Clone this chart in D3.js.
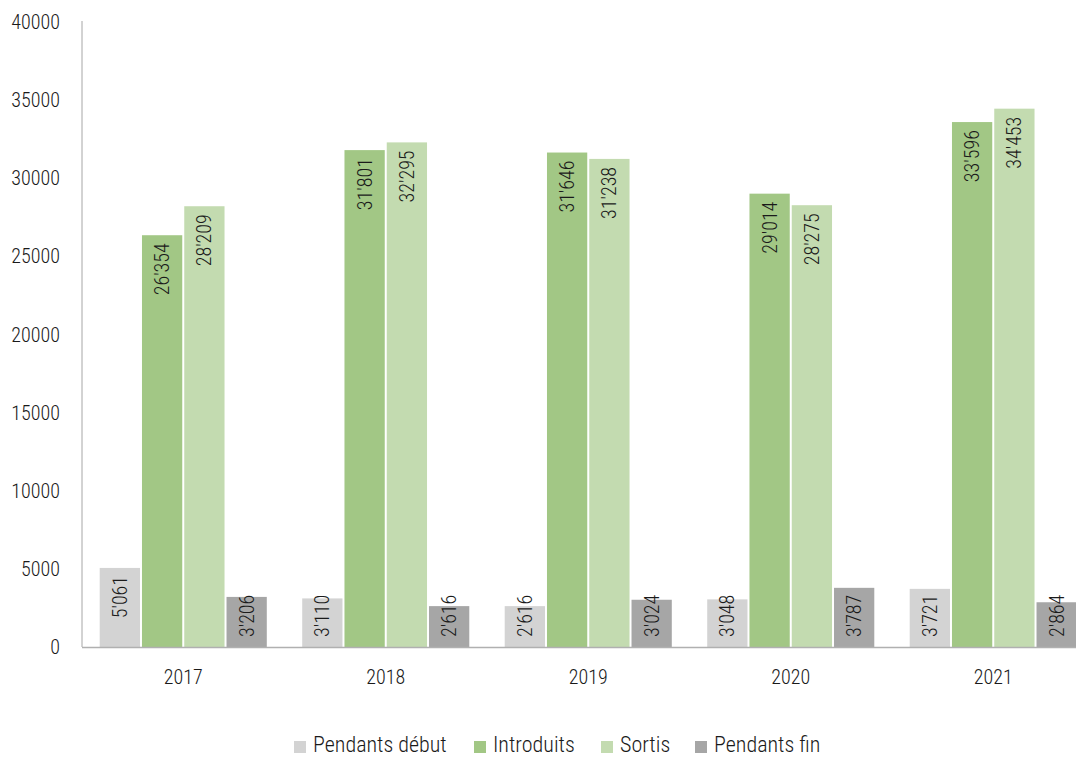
<!DOCTYPE html>
<html><head><meta charset="utf-8">
<script src="https://cdnjs.cloudflare.com/ajax/libs/d3/7.8.5/d3.min.js"></script>
<style>
body{margin:0;background:#fff;}
svg{display:block;font-family:"Roboto Condensed","Roboto",sans-serif;font-weight:300;}
</style></head>
<body><svg id="c" width="1076" height="757"></svg>
<script>
const years = ["2017","2018","2019","2020","2021"];
const seriesNames = ["Pendants début","Introduits","Sortis","Pendants fin"];
const pendantsDebut = [5061,3110,2616,3048,3721];
const introduits = [26354,31801,31646,29014,33596];
const sortis = [28209,32295,31238,28275,34453];
const pendantsFin = [3206,2616,3024,3787,2864];
const colors = ["#d3d3d3","#a2c785","#c3dbb0","#a6a6a6"];
const yTicks = [0,5000,10000,15000,20000,25000,30000,35000,40000];

const allSeries = [pendantsDebut,introduits,sortis,pendantsFin];
const svg = d3.select("#c");
const TXT = "#1a1a1a";
const x0 = d3.scaleBand().domain(years).range([82,1094.5]).paddingInner(0.165).paddingOuter(0.0825);
const x1 = d3.scaleBand().domain(d3.range(4)).range([0,x0.bandwidth()]).padding(0);
const y = d3.scaleLinear().domain([0,40000]).range([647,22]);
const fmt = v => { const s = String(v); return s.length>3 ? s.slice(0,-3)+"'"+s.slice(-3) : s; };

// y tick labels
svg.append("g").selectAll("text").data(yTicks).join("text")
  .attr("x",60).attr("y",d=>y(d)).attr("dy","0.35em").attr("text-anchor","end")
  .attr("font-size",20).attr("fill",TXT).text(d=>d);

const data = [];
years.forEach((yr,i)=>allSeries.forEach((s,j)=>data.push({yr,j,v:s[i]})));

svg.append("g").selectAll("rect").data(data).join("rect")
  .attr("x",d=>x0(d.yr)+x1(d.j)+1).attr("width",x1.bandwidth()-2)
  .attr("y",d=>y(d.v)).attr("height",d=>y(0)-y(d.v)).attr("fill",d=>colors[d.j]);

// axes lines
svg.append("line").attr("x1",82).attr("x2",82).attr("y1",y(40000)-1).attr("y2",y(0)).attr("stroke","#a6a6a6").attr("stroke-width",1);
svg.append("line").attr("x1",82).attr("x2",1076).attr("y1",y(0)+0.5).attr("y2",y(0)+0.5).attr("stroke","#b0b0b0").attr("stroke-width",1.5);

// value labels
const lg = svg.append("g");
data.forEach(d=>{
  const cx = x0(d.yr)+x1(d.j)+x1.bandwidth()/2;
  const t = lg.append("text").attr("font-size",20).attr("fill",TXT)
    .attr("text-anchor","end").attr("dy","0.35em").text(fmt(d.v));
  const len = t.node().getComputedTextLength();
  const top = Math.min(y(d.v)+8, y(0)-10-len);
  t.attr("transform",`translate(${cx},${top}) rotate(-90)`);
});

// x labels
svg.append("g").selectAll("text").data(years).join("text")
  .attr("x",d=>x0(d)+x0.bandwidth()/2).attr("y",677).attr("dy","0.35em")
  .attr("text-anchor","middle").attr("font-size",20).attr("fill",TXT).text(d=>d);

// legend
const legX = [294,474,601,695];
const leg = svg.append("g");
seriesNames.forEach((n,i)=>{
  leg.append("rect").attr("x",legX[i]).attr("y",741).attr("width",12).attr("height",12).attr("fill",colors[i]);
  leg.append("text").attr("x",legX[i]+19).attr("y",744).attr("dy","0.35em")
    .attr("font-size",22).attr("fill",TXT).text(n);
});
</script></body></html>
